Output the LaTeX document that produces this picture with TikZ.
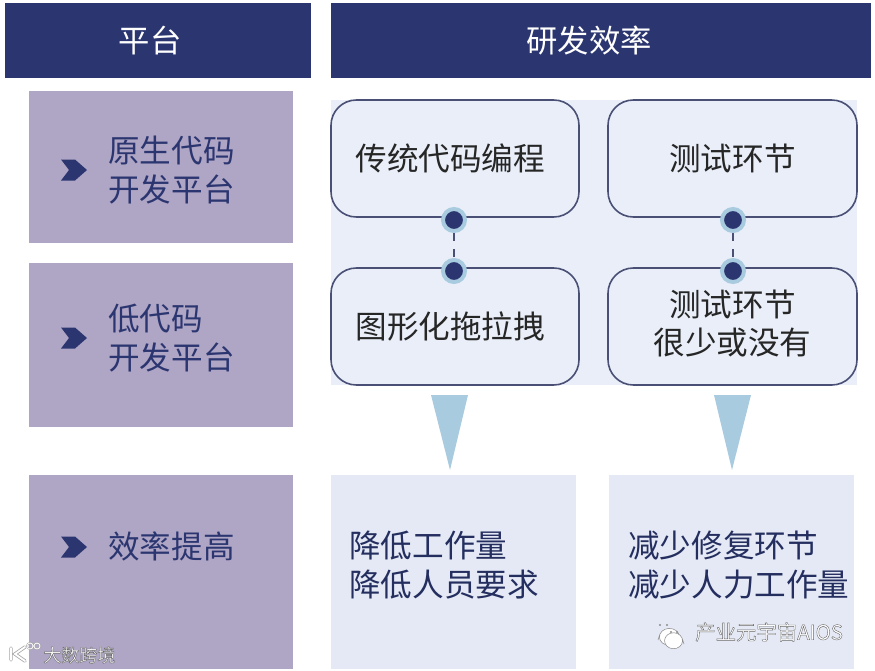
\documentclass[tikz,border=0pt]{standalone}
\usepackage{fontspec}
\usepackage{xcolor}
\setmainfont{Noto Sans CJK SC}
\usetikzlibrary{positioning, calc}

\definecolor{headblue}{HTML}{2B3670}
\definecolor{sidepurple}{HTML}{AFA5C5}
\definecolor{panelblue}{HTML}{E9EEF8}
\definecolor{resultblue}{HTML}{E4E9F5}
\definecolor{ringblue}{HTML}{A9CBE0}
\definecolor{edgegray}{HTML}{4A5075}

\tikzset{
    boxdim/.style 2 args={minimum width=#1*0.75pt, minimum height=#2*0.75pt},
    headbox/.style={fill=headblue, text=white, inner sep=0pt, font=\fontsize{23.5}{28}\selectfont},
    sidebox/.style={fill=sidepurple, inner sep=0pt},
    sidetext/.style={anchor=west, align=left, inner sep=0pt, text=headblue, font=\fontsize{23.7}{29}\selectfont},
    stagebox/.style={draw=edgegray, line width=1.2pt, rounded corners=19pt, fill=panelblue, inner sep=0pt, align=center, text=black!85, font=\fontsize{23.7}{28.5}\selectfont},
    resultbox/.style={fill=resultblue, inner sep=0pt},
    resulttext/.style={anchor=west, align=left, inner sep=0pt, text=headblue!85!black, font=\fontsize{23.7}{29}\selectfont},
    linkdot/.style={circle, fill=headblue, draw=ringblue, line width=3pt, minimum size=16.5pt, inner sep=0pt},
    chevron/.style={fill=headblue},
    downtri/.style={fill=ringblue},
    marktext/.style={anchor=west, inner sep=0pt, text=white},
    logoline/.style={draw=black!35, double=white, line cap=round}
}

\newcommand{\wmtext}[1]{\special{pdf:code q 2 Tr 0.3 w 0.4 G}#1\special{pdf:code Q}}

\begin{document}
\begin{tikzpicture}[x=0.75pt, y=-0.75pt]
    \useasboundingbox (0,0) rectangle (875,671);

    % titres
    \node[headbox, boxdim={306}{75}] (headplat) at (158,40.5) {平台\hspace{12pt}\mbox{}};
    \node[headbox, boxdim={540}{75}] (headeff) at (601,40.5) {研发效率\hspace{18pt}\mbox{}};

    % colonne de gauche
    \node[sidebox, boxdim={264}{152}] (sidenative) at (161,167) {};
    \node[sidebox, boxdim={264}{164}] (sidelow) at (161,345) {};
    \node[sidebox, boxdim={264}{194}] (sideeff) at (161,572) {};
    \node[sidetext] (textnative) at (108,170) {原生代码\\开发平台};
    \node[sidetext] (textlow) at (108,338) {低代码\\开发平台};
    \node[sidetext] (texteff) at (108,546) {效率提高};
    \foreach \cy in {170,338,547} {
        \fill[chevron] (61,\cy-10.5) -- (75,\cy-10.5) -- (87,\cy) -- (75,\cy+10.5) -- (61,\cy+10.5) -- (69,\cy) -- cycle;
    }

    % fond et boites
    \fill[panelblue] (331,100) rectangle (857,385);
    \node[stagebox, boxdim={248}{117}] (codebox) at (455,158.5) {传统代码编程\hspace{7pt}};
    \node[stagebox, boxdim={249}{117}] (testbox) at (732.5,158.5) {测试环节};
    \node[stagebox, boxdim={248}{117}] (dragbox) at (455,326.5) {图形化拖拉拽\hspace{7pt}};
    \node[stagebox, boxdim={249}{117}] (lessbox) at (732.5,326.5) {测试环节\\很少或没有\rule[-6pt]{0pt}{0pt}};

    % liaisons
    \node[linkdot] (dota) at (454,220) {};
    \node[linkdot] (dotb) at (454,271) {};
    \node[linkdot] (dotc) at (733,220) {};
    \node[linkdot] (dotd) at (733,271) {};
    \draw[edgegray, line width=1.2pt, dash pattern=on 6pt off 6pt] (dota) -- (dotb);
    \draw[edgegray, line width=1.2pt, dash pattern=on 6pt off 6pt] (dotc) -- (dotd);

    % triangles
    \fill[downtri] (431,395) -- (468,395) -- (450,470) -- cycle;
    \fill[downtri] (714,395) -- (751,395) -- (732,470) -- cycle;

    % resultats
    \node[resultbox, boxdim={245}{194}] (resleft) at (453.5,572) {};
    \node[resultbox, boxdim={245}{194}] (resright) at (731.5,572) {};
    \node[resulttext] (textleft) at (349,565) {降低工作量\\降低人员要求};
    \node[resulttext] (textright) at (628,565) {减少修复环节\\减少人力工作量};

    % filigranes
    \node[marktext, font=\fontsize{13.5}{16}\selectfont] (markleft) at (43,655) {\wmtext{大数跨境}};
    \node[marktext, font=\fontsize{15.3}{18}\selectfont] (markright) at (695,632) {\wmtext{产业元宇宙AIOS}};
    \draw[logoline, line width=0.6pt, double distance=1.4pt] (11,648) -- (11,660) (25,647) -- (15,654) -- (25,661);
    \draw[logoline, line width=0.4pt, double distance=0.6pt] (30,646) circle (3) (37,646) circle (3);
    \filldraw[fill=white, draw=black!45, line width=0.4pt] (658,640) -- (660,634) arc (200:-160:10 and 8.5) -- cycle;
    \filldraw[fill=white, draw=black!45, line width=0.4pt] (684,644) -- (682,638) arc (-20:340:9 and 8) -- cycle;
    \fill[black!45] (660,625) circle (1.2) (667,625) circle (1.2) (671,632) circle (1.1) (677,632) circle (1.1);
\end{tikzpicture}
\end{document}
